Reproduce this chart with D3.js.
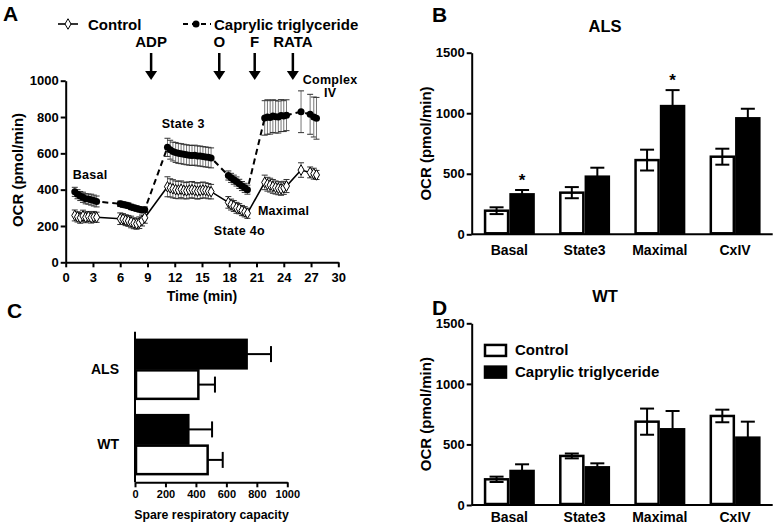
<!DOCTYPE html>
<html><head><meta charset="utf-8">
<script src="https://cdn.jsdelivr.net/npm/d3@7"></script>
<style>
html,body{margin:0;padding:0;background:#fff;}
text{font-family:"Liberation Sans",Arial,sans-serif;font-weight:bold;fill:#000;}
</style></head>
<body><svg id="c" width="779" height="526"></svg>
<script>
// ---------- Panel A data (time course) ----------
const timeMin = [1.0,1.3,1.6,1.9,2.2,2.5,2.8,3.1,3.4,
  6.0,6.3,6.6,6.9,7.2,7.5,7.8,8.1,8.4,8.7,
  11.2,11.5,11.8,12.1,12.4,12.7,13.0,13.3,13.6,13.9,14.2,14.5,14.8,15.1,15.4,15.7,16.0,
  17.9,18.2,18.5,18.8,19.1,19.4,19.7,20.0,
  21.9,22.2,22.5,22.8,23.1,23.4,23.7,24.0,24.3,
  25.9,26.9,27.3,27.6];
const controlOCR = [258,250,245,255,248,252,246,250,248,
  240,238,232,228,222,215,212,218,230,245,
  416,410,405,400,398,402,396,394,398,400,396,392,395,398,396,392,389,
  330,318,310,300,295,285,278,270,
  440,430,425,418,412,408,405,410,420,
  508,495,488,481];
const controlSEM = [30,28,30,32,30,28,30,30,28,
  32,30,30,30,32,30,30,32,30,30,
  55,50,50,48,48,46,46,45,45,45,44,44,44,44,42,42,40,
  32,30,30,30,28,28,28,28,
  40,38,38,38,36,36,36,36,36,
  40,30,30,25];
const caprylicOCR = [388,375,365,358,350,348,345,340,335,
  322,318,315,312,305,300,296,292,288,290,
  633,620,610,605,600,598,595,592,590,588,590,586,585,582,580,578,575,
  478,465,455,445,432,420,410,400,
  795,800,798,805,802,800,808,805,810,
  829,815,800,793];
const caprylicSEM = [25,25,25,28,28,28,30,30,30,
  15,15,15,15,15,15,15,15,15,15,
  50,52,52,55,55,55,55,55,55,55,55,55,55,55,55,55,55,
  25,25,25,25,25,25,25,25,
  95,95,92,90,90,88,88,85,85,
  115,110,110,115];
const injections = ["ADP","O","F","RATA"];
const injectionTimes = [9.4,16.9,20.8,25.0];
const timeTicks = [0,3,6,9,12,15,18,21,24,27,30];
const ocrTicksA = [0,200,400,600,800,1000];

// ---------- Panels B & D ----------
const states = ["Basal","State3","Maximal","CxIV"];
const seriesNames = ["Control","Caprylic triglyceride"];
const alsControl = [195,344,613,641];
const alsControlSEM = [28,46,86,66];
const alsCaprylic = [330,476,1059,958];
const alsCaprylicSEM = [36,74,132,79];
const alsSignificant = [true,false,true,false];
const wtControl = [212,405,688,735];
const wtControlSEM = [22,20,108,52];
const wtCaprylic = [281,311,625,556];
const wtCaprylicSEM = [55,33,151,132];
const ocrTicksBD = [0,500,1000,1500];

// ---------- Panel C ----------
const genotypes = ["ALS","WT"];
const spareControl = [416,477];
const spareControlSEM = [109,99];
const spareCaprylic = [733,350];
const spareCaprylicSEM = [160,156];
const spareTicks = [0,200,400,600,800,1000];

const fmt = d3.format("d");
const svg = d3.select("#c");
svg.append("rect").attr("width",779).attr("height",526).attr("fill","#fff");

function styleAxis(g, fs){
  g.select(".domain").attr("stroke","#000").attr("stroke-width",2);
  g.selectAll(".tick line").attr("stroke","#000").attr("stroke-width",2);
  g.selectAll(".tick text").attr("font-size",fs).attr("font-family","Liberation Sans, Arial, sans-serif").attr("font-weight","bold").attr("fill","#000");
}
function panelLabel(t,x,y){
  svg.append("text").attr("x",x).attr("y",y).attr("font-size",21).text(t);
}

// ================= Panel A =================
{
  const x = d3.scaleLinear().domain([0,30]).range([65.7,338.3]);
  const y = d3.scaleLinear().domain([0,1000]).range([262.3,80.7]);
  const g = svg.append("g");
  const ax = g.append("g").attr("transform","translate(0,262.3)")
    .call(d3.axisBottom(x).tickValues(timeTicks).tickFormat(fmt).tickSize(5).tickPadding(5).tickSizeOuter(0));
  styleAxis(ax,13);
  const ay = g.append("g").attr("transform","translate(65.7,0)")
    .call(d3.axisLeft(y).tickValues(ocrTicksA).tickFormat(fmt).tickSize(5).tickPadding(2).tickSizeOuter(0));
  styleAxis(ay,13);
  g.append("text").attr("x",x(15)).attr("y",301).attr("text-anchor","middle").attr("font-size",14).text("Time (min)");
  g.append("text").attr("transform","translate(23,170) rotate(-90)").attr("text-anchor","middle").attr("font-size",15).text("OCR (pmol/min)");

  const pts = timeMin.map((t,i)=>({t,c:controlOCR[i],cs:controlSEM[i],k:caprylicOCR[i],ks:caprylicSEM[i]}));
  function ebars(key,sk,col){
    const eb = g.append("g");
    pts.forEach(p=>{
      eb.append("line").attr("x1",x(p.t)).attr("x2",x(p.t)).attr("y1",y(p[key]-p[sk])).attr("y2",y(p[key]+p[sk])).attr("stroke",col).attr("stroke-width",1);
      [p[key]-p[sk],p[key]+p[sk]].forEach(v=>eb.append("line").attr("x1",x(p.t)-3).attr("x2",x(p.t)+3).attr("y1",y(v)).attr("y2",y(v)).attr("stroke","#333").attr("stroke-width",1));
    });
  }
  ebars("k","ks","#777");
  ebars("c","cs","#777");
  g.append("path").datum(pts).attr("fill","none").attr("stroke","#000").attr("stroke-width",2).attr("stroke-dasharray","6,4")
    .attr("d",d3.line().x(d=>x(d.t)).y(d=>y(d.k)));
  g.append("path").datum(pts).attr("fill","none").attr("stroke","#000").attr("stroke-width",1.6)
    .attr("d",d3.line().x(d=>x(d.t)).y(d=>y(d.c)));
  g.append("g").selectAll("circle").data(pts).join("circle").attr("cx",d=>x(d.t)).attr("cy",d=>y(d.k)).attr("r",3.5).attr("fill","#000");
  const diamond = d3.symbol().type(d3.symbolDiamond).size(32);
  g.append("g").selectAll("path").data(pts).join("path").attr("d",diamond)
    .attr("transform",d=>`translate(${x(d.t)},${y(d.c)})`).attr("fill","#fff").attr("stroke","#000").attr("stroke-width",1);

  injections.forEach((lab,i)=>{
    const xx = x(injectionTimes[i]);
    g.append("text").attr("x",xx).attr("y",46.7).attr("text-anchor","middle").attr("font-size",15).text(lab);
    g.append("line").attr("x1",xx).attr("x2",xx).attr("y1",53).attr("y2",72).attr("stroke","#000").attr("stroke-width",2.5);
    g.append("path").attr("d",`M${xx-6},71 L${xx+6},71 L${xx},80 Z`).attr("fill","#000");
  });
  const ann = [["Basal",0.77,459,"start"],["State 3",10.56,740,"start"],["State 4o",16.3,150,"start"],["Maximal",21.15,260,"start"],["Complex",29.1,981,"middle"],["IV",29.1,910,"middle"]];
  ann.forEach(a=>g.append("text").attr("x",x(a[1])).attr("y",y(a[2])).attr("text-anchor",a[3]).attr("font-size",12.5).attr("letter-spacing",0.3).text(a[0]));
  g.append("line").attr("x1",58).attr("x2",78).attr("y1",24).attr("y2",24).attr("stroke","#000").attr("stroke-width",1.6);
  g.append("path").attr("d",diamond).attr("transform","translate(68,24)").attr("fill","#fff").attr("stroke","#000");
  g.append("text").attr("x",88).attr("y",29.5).attr("font-size",15).text(seriesNames[0]);
  g.append("line").attr("x1",183).attr("x2",211).attr("y1",24).attr("y2",24).attr("stroke","#000").attr("stroke-width",2).attr("stroke-dasharray","5,4");
  g.append("circle").attr("cx",196).attr("cy",24).attr("r",3.5).attr("fill","#000");
  g.append("text").attr("x",214).attr("y",29.5).attr("font-size",15).text(seriesNames[1]);
  panelLabel("A",3,21);
}

// ================= Panels B & D =================
function barPanel(y0, y1, title, titleY, labPad, ctrl, ctrlSem, cap, capSem, sig, legend){
  const x = d3.scaleBand().domain(states).range([471.7,772.7]).paddingInner(0.322).paddingOuter(0.161);
  const xs = d3.scaleBand().domain(seriesNames).range([0,x.bandwidth()]);
  const y = d3.scaleLinear().domain([0,1500]).range([y0,y1]);
  const g = svg.append("g");
  const ay = g.append("g").attr("transform","translate(471.7,0)")
    .call(d3.axisLeft(y).tickValues(ocrTicksBD).tickFormat(fmt).tickSize(5).tickPadding(2).tickSizeOuter(0));
  styleAxis(ay,13);
  const ax = g.append("g").attr("transform",`translate(0,${y0})`)
    .call(d3.axisBottom(x).tickSize(0).tickPadding(labPad).tickSizeOuter(0));
  styleAxis(ax,14);
  ax.select(".domain").attr("d",`M471.7,0H772.7`);
  g.append("text").attr("x",605).attr("y",titleY).attr("text-anchor","middle").attr("font-size",16.5).text(title);
  g.append("text").attr("transform",`translate(431,${(y0+y1)/2}) rotate(-90)`).attr("text-anchor","middle").attr("font-size",15).text("OCR (pmol/min)");
  const data = states.map((s,i)=>[
    {s,ser:seriesNames[0],v:ctrl[i],e:ctrlSem[i],fill:"#fff"},
    {s,ser:seriesNames[1],v:cap[i],e:capSem[i],fill:"#000"}]).flat();
  g.append("g").selectAll("rect").data(data).join("rect")
    .attr("x",d=>x(d.s)+xs(d.ser)+1.25).attr("width",xs.bandwidth()-2.5)
    .attr("y",d=>y(d.v)).attr("height",d=>y0-y(d.v)-1)
    .attr("fill",d=>d.fill).attr("stroke","#000").attr("stroke-width",2.5);
  data.forEach(d=>{
    const cx = x(d.s)+xs(d.ser)+xs.bandwidth()/2;
    g.append("line").attr("x1",cx).attr("x2",cx).attr("y1",y(d.v-d.e)).attr("y2",y(d.v+d.e)).attr("stroke","#000").attr("stroke-width",2);
    [d.v-d.e,d.v+d.e].forEach(v=>g.append("line").attr("x1",cx-7).attr("x2",cx+7).attr("y1",y(v)).attr("y2",y(v)).attr("stroke","#000").attr("stroke-width",2));
  });
  states.forEach((s,i)=>{
    if(sig[i]){
      const cx = x(s)+xs(seriesNames[1])+xs.bandwidth()/2;
      g.append("text").attr("x",cx).attr("y",y(cap[i]+capSem[i])-4).attr("text-anchor","middle").attr("font-size",17).text("*");
    }
  });
  if(legend){
    const ly = [y(1276),y(1097)];
    seriesNames.forEach((n,i)=>{
      g.append("rect").attr("x",485).attr("y",ly[i]-5.5).attr("width",21).attr("height",11).attr("fill",i?"#000":"#fff").attr("stroke","#000").attr("stroke-width",2.5);
      g.append("text").attr("x",515).attr("y",ly[i]+5).attr("font-size",15).text(n);
    });
  }
}
barPanel(234.3,52.7,"ALS",31.7,11,alsControl,alsControlSEM,alsCaprylic,alsCaprylicSEM,alsSignificant,false);
panelLabel("B",432,22);
barPanel(505,323.3,"WT",301.7,7.5,wtControl,wtControlSEM,wtCaprylic,wtCaprylicSEM,[false,false,false,false],true);
panelLabel("D",432,315);

// ================= Panel C =================
{
  const x = d3.scaleLinear().domain([0,1000]).range([135,287.3]);
  const y = d3.scaleBand().domain(genotypes).range([331.7,482.3]).paddingInner(0.19).paddingOuter(0.095);
  const ys = d3.scaleBand().domain(["cap","ctrl"]).range([0,y.bandwidth()]);
  const g = svg.append("g");
  const ax = g.append("g").attr("transform","translate(0,482.3)")
    .call(d3.axisBottom(x).tickValues(spareTicks).tickFormat(fmt).tickSize(5).tickPadding(3).tickSizeOuter(0));
  styleAxis(ax,11);
  const ay = g.append("g").attr("transform","translate(135,0)")
    .call(d3.axisLeft(y).tickSize(0).tickPadding(16).tickSizeOuter(0));
  styleAxis(ay,14);
  ay.select(".domain").attr("d","M0,331.7V482.3");
  g.append("text").attr("x",211.5).attr("y",518.5).attr("text-anchor","middle").attr("font-size",12.3).text("Spare respiratory capacity");
  const data = genotypes.map((gt,i)=>[
    {gt,k:"cap",v:spareCaprylic[i],e:spareCaprylicSEM[i],fill:"#000"},
    {gt,k:"ctrl",v:spareControl[i],e:spareControlSEM[i],fill:"#fff"}]).flat();
  data.forEach(d=>{
    const cy = y(d.gt)+ys(d.k)+ys.bandwidth()/2;
    g.append("line").attr("x1",x(d.v)).attr("x2",x(d.v+d.e)).attr("y1",cy).attr("y2",cy).attr("stroke","#000").attr("stroke-width",2);
    g.append("line").attr("x1",x(d.v+d.e)).attr("x2",x(d.v+d.e)).attr("y1",cy-8).attr("y2",cy+8).attr("stroke","#000").attr("stroke-width",2);
  });
  g.append("g").selectAll("rect").data(data).join("rect")
    .attr("x",x(0)+1).attr("width",d=>x(d.v)-x(0)-1)
    .attr("y",d=>y(d.gt)+ys(d.k)+1).attr("height",ys.bandwidth()-2)
    .attr("fill",d=>d.fill).attr("stroke","#000").attr("stroke-width",2.5);
  panelLabel("C",7,318);
}
</script></body></html>
